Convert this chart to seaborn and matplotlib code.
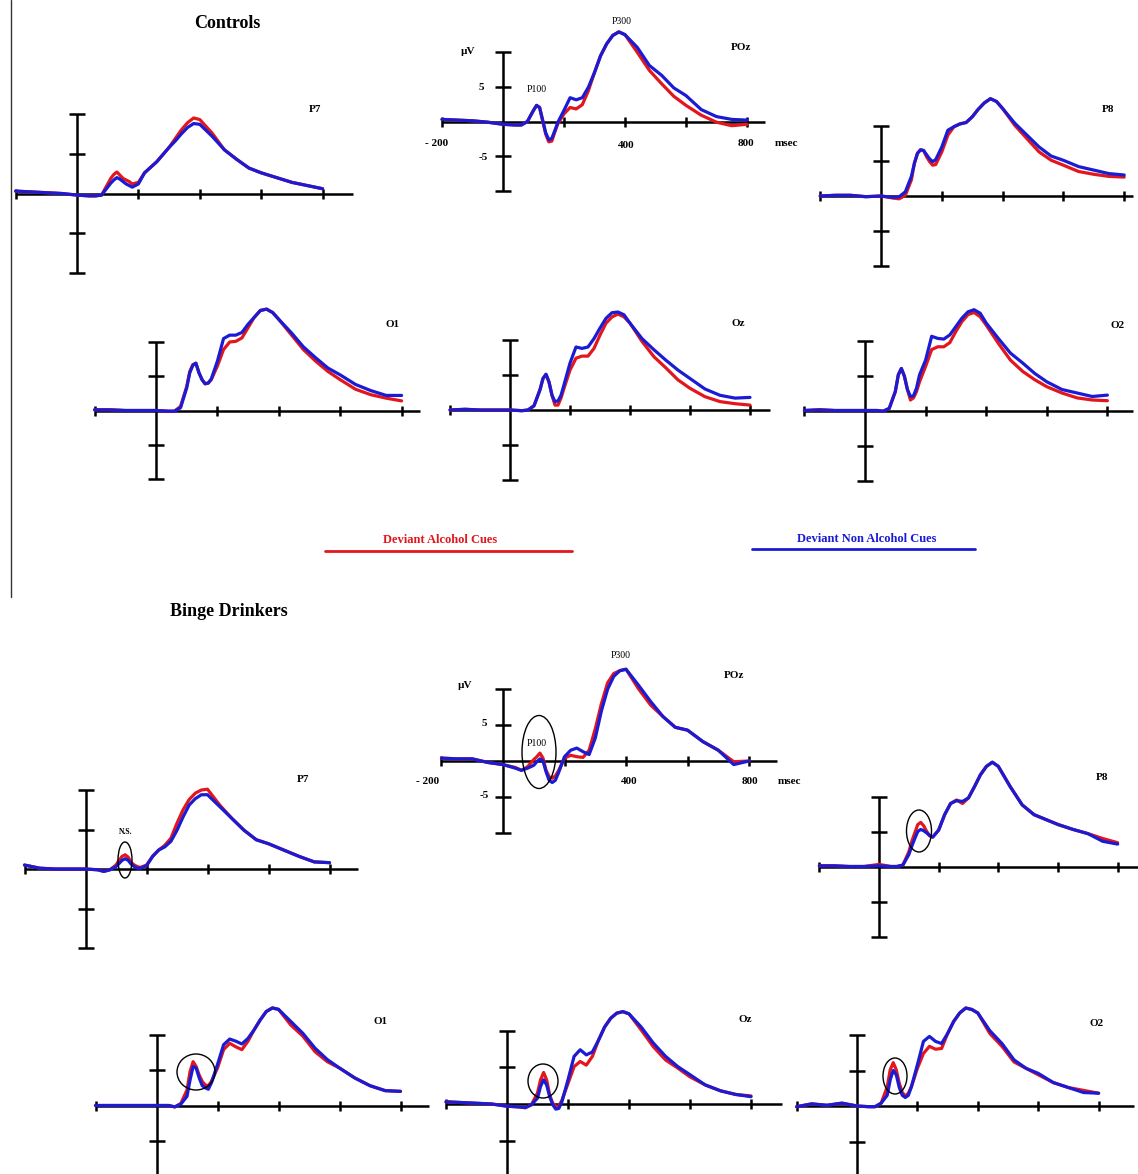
import matplotlib
matplotlib.use("Agg")
import matplotlib.pyplot as plt
import seaborn as sns
from matplotlib.patches import Ellipse
from matplotlib.lines import Line2D

# ERP grand averages: deviant alcohol (red) vs deviant non alcohol cues (blue)
W, H = 1138, 1174

times = [-200, -150, -100, -50, 0, 40, 60, 80, 100, 110, 120, 130, 140, 150, 160, 170, 180,
         200, 220, 240, 260, 280, 300, 320, 340, 360, 380, 400,
         440, 480, 520, 560, 600, 650, 700, 750, 800]

# ---- Controls (µV)
ctrl_p7_red = [0.3, 0.2, 0.1, 0.0, -0.2, -0.3, -0.3, -0.2, 1.2, 1.9, 2.4, 2.7, 2.3, 1.9, 1.7, 1.5, 1.2,
               1.4, 2.6, 3.3, 4.0, 4.9, 5.8, 6.9, 8.0, 8.9, 9.5, 9.3, 7.6, 5.5, 4.3, 3.2, 2.6, 2.0, 1.4, 1.0, 0.6]
ctrl_p7_blue = [0.3, 0.2, 0.1, 0.0, -0.2, -0.3, -0.3, -0.2, 0.8, 1.3, 1.7, 2.0, 1.8, 1.5, 1.2, 1.0, 0.8,
                1.2, 2.6, 3.3, 4.0, 4.9, 5.8, 6.6, 7.5, 8.3, 8.8, 8.7, 7.2, 5.5, 4.3, 3.2, 2.6, 2.0, 1.4, 1.0, 0.6]
ctrl_poz_red = [0.3, 0.2, 0.1, -0.1, -0.4, -0.5, -0.5, 0.0, 1.6, 2.3, 2.0, 0.1, -1.8, -2.9, -2.8, -1.5, -0.3,
                1.1, 2.0, 1.8, 2.4, 4.4, 7.0, 9.4, 11.1, 12.3, 12.8, 12.4, 9.9, 7.3, 5.4, 3.6, 2.3, 0.9, -0.1, -0.6, -0.4]
ctrl_poz_blue = [0.3, 0.2, 0.1, -0.1, -0.4, -0.5, -0.5, 0.0, 1.6, 2.3, 2.0, 0.2, -1.6, -2.6, -2.4, -1.3, -0.1,
                 1.6, 3.4, 3.1, 3.4, 4.9, 7.0, 9.4, 11.1, 12.3, 12.8, 12.4, 10.6, 8.0, 6.6, 4.8, 3.7, 1.7, 0.7, 0.3, 0.2]
ctrl_p8_red = [0.0, 0.1, 0.1, -0.1, 0.0, -0.3, -0.4, 0.1, 2.3, 4.7, 6.1, 6.6, 6.5, 5.6, 4.9, 4.4, 4.5,
               6.3, 8.7, 9.9, 10.3, 10.5, 11.3, 12.4, 13.3, 13.9, 13.5, 12.5, 10.1, 8.2, 6.3, 5.1, 4.4, 3.5, 3.1, 2.8, 2.7]
ctrl_p8_blue = [0.0, 0.1, 0.1, -0.1, 0.0, -0.2, -0.1, 0.6, 2.8, 4.7, 6.1, 6.6, 6.5, 5.9, 5.3, 4.9, 5.2,
                7.0, 9.4, 9.9, 10.3, 10.5, 11.3, 12.4, 13.3, 13.9, 13.5, 12.5, 10.4, 8.7, 7.0, 5.7, 5.1, 4.2, 3.7, 3.2, 3.0]
ctrl_o1_red = [0.1, 0.1, 0.0, 0.0, 0.0, -0.1, -0.1, 0.6, 3.5, 5.7, 6.7, 6.9, 5.5, 4.5, 3.9, 4.0, 4.5,
               6.5, 8.9, 10.0, 10.1, 10.6, 12.1, 13.6, 14.6, 14.8, 14.3, 13.3, 11.1, 8.9, 7.2, 5.7, 4.5, 3.1, 2.3, 1.8, 1.4]
ctrl_o1_blue = [0.1, 0.1, 0.0, 0.0, 0.0, -0.1, -0.1, 0.4, 3.3, 5.5, 6.6, 6.9, 5.5, 4.5, 3.9, 4.0, 4.6,
                7.2, 10.5, 11.0, 11.0, 11.4, 12.6, 13.6, 14.6, 14.8, 14.3, 13.3, 11.4, 9.3, 7.7, 6.2, 5.2, 3.8, 2.9, 2.2, 2.2]
ctrl_oz_red = [0.0, 0.1, 0.0, 0.0, 0.0, -0.1, 0.0, 0.6, 2.9, 4.5, 5.1, 4.0, 2.1, 0.7, 0.7, 1.7, 3.1,
               5.7, 7.4, 7.7, 7.7, 8.8, 10.7, 12.4, 13.3, 13.7, 13.3, 12.4, 9.8, 7.6, 6.0, 4.3, 3.1, 1.9, 1.2, 0.9, 0.7]
ctrl_oz_blue = [0.0, 0.1, 0.0, 0.0, 0.0, -0.1, 0.0, 0.6, 2.9, 4.5, 5.1, 4.0, 2.1, 1.2, 1.3, 2.1, 3.6,
                6.7, 9.0, 8.8, 9.0, 10.2, 11.7, 13.1, 13.9, 14.0, 13.6, 12.4, 10.2, 8.6, 7.1, 5.7, 4.5, 3.0, 2.1, 1.7, 1.8]
ctrl_o2_red = [0.0, 0.1, 0.0, 0.0, 0.0, 0.0, -0.1, 0.3, 2.7, 5.1, 6.0, 4.9, 3.0, 1.5, 1.8, 2.7, 4.1,
               6.3, 8.7, 9.1, 9.1, 9.7, 11.3, 12.7, 13.7, 14.0, 13.4, 12.2, 9.6, 7.2, 5.6, 4.4, 3.4, 2.5, 1.8, 1.5, 1.4]
ctrl_o2_blue = [0.0, 0.1, 0.0, 0.0, 0.0, 0.0, -0.1, 0.3, 2.7, 5.1, 6.0, 4.9, 3.0, 2.0, 2.1, 3.2, 5.1,
                7.2, 10.6, 10.3, 10.2, 10.8, 12.0, 13.2, 14.1, 14.4, 13.9, 12.5, 10.3, 8.2, 6.8, 5.3, 4.1, 3.0, 2.5, 2.0, 2.2]

# ---- Binge drinkers (µV)
binge_p7_red = [0.5, 0.1, 0.0, 0.0, 0.0, -0.1, -0.3, -0.1, 0.5, 1.1, 1.6, 1.8, 1.5, 0.8, 0.5, 0.3, 0.2,
                0.5, 1.6, 2.4, 3.0, 3.9, 5.8, 7.5, 8.8, 9.6, 10.0, 10.1, 8.1, 6.4, 4.9, 3.7, 3.2, 2.4, 1.6, 0.9, 0.8]
binge_p7_blue = [0.5, 0.1, 0.0, 0.0, 0.0, -0.1, -0.3, -0.1, 0.3, 0.7, 1.1, 1.3, 1.1, 0.6, 0.3, 0.1, 0.1,
                 0.4, 1.6, 2.4, 2.8, 3.5, 4.9, 6.6, 8.1, 8.9, 9.4, 9.4, 7.9, 6.4, 4.9, 3.7, 3.2, 2.4, 1.6, 0.9, 0.8]
binge_poz_red = [0.4, 0.3, 0.3, -0.2, -0.5, -0.9, -1.3, -0.8, 0.2, 0.6, 1.1, 0.4, -1.3, -2.2, -2.4, -2.1, -1.4,
                 0.4, 0.8, 0.6, 0.5, 1.5, 4.5, 8.0, 10.9, 12.2, 12.6, 12.8, 10.1, 7.8, 6.2, 4.7, 4.3, 2.7, 1.5, -0.1, 0.0]
binge_poz_blue = [0.4, 0.3, 0.3, -0.2, -0.5, -1.0, -1.3, -1.0, -0.6, -0.1, 0.3, 0.0, -1.5, -2.7, -3.0, -2.7, -1.7,
                  0.6, 1.5, 1.8, 1.3, 0.9, 3.2, 7.0, 10.0, 11.8, 12.6, 12.8, 10.6, 8.3, 6.2, 4.7, 4.3, 2.7, 1.5, -0.5, 0.0]
binge_p8_red = [0.1, 0.1, 0.0, 0.0, 0.3, 0.0, 0.0, 0.2, 2.1, 3.6, 4.8, 6.0, 6.3, 5.8, 5.0, 4.4, 4.2,
                5.2, 7.4, 9.0, 9.5, 9.0, 9.8, 11.4, 13.1, 14.3, 14.9, 14.3, 11.4, 8.8, 7.4, 6.7, 6.0, 5.3, 4.7, 4.0, 3.4]
binge_p8_blue = [0.1, 0.1, 0.0, 0.0, 0.1, 0.0, 0.0, 0.2, 1.7, 2.9, 4.0, 5.0, 5.3, 5.1, 4.8, 4.4, 4.2,
                 5.2, 7.4, 9.0, 9.4, 9.3, 9.8, 11.4, 13.1, 14.3, 14.9, 14.3, 11.4, 8.8, 7.4, 6.7, 6.0, 5.3, 4.7, 3.6, 3.2]
binge_o1_red = [0.0, 0.0, 0.0, 0.0, 0.0, 0.0, -0.2, 0.3, 2.2, 4.8, 6.2, 5.5, 4.3, 3.4, 2.9, 2.8, 3.4,
                5.3, 7.9, 8.8, 8.3, 7.9, 9.1, 10.7, 12.1, 13.3, 13.8, 13.6, 11.4, 9.8, 7.6, 6.2, 5.3, 3.9, 2.8, 2.1, 2.0]
binge_o1_blue = [0.0, 0.0, 0.0, 0.0, 0.0, 0.0, -0.2, 0.2, 1.3, 3.6, 5.5, 5.3, 3.9, 2.8, 2.5, 2.3, 3.2,
                 5.8, 8.6, 9.4, 9.1, 8.7, 9.5, 10.7, 12.1, 13.3, 13.8, 13.6, 11.9, 10.2, 8.1, 6.5, 5.3, 3.9, 2.8, 2.1, 2.0]
binge_oz_red = [0.3, 0.2, 0.1, 0.0, -0.3, -0.4, -0.5, -0.1, 1.5, 3.3, 4.3, 3.3, 1.2, 0.1, -0.3, -0.3, 0.5,
                2.8, 5.1, 5.8, 5.3, 6.5, 8.7, 10.5, 11.7, 12.4, 12.6, 12.3, 10.1, 7.8, 6.0, 4.9, 3.7, 2.6, 1.8, 1.3, 1.1]
binge_oz_blue = [0.3, 0.2, 0.1, 0.0, -0.3, -0.4, -0.5, -0.1, 0.8, 2.4, 3.3, 2.6, 1.0, -0.1, -0.7, -0.6, 0.3,
                 3.3, 6.5, 7.4, 6.7, 7.1, 8.7, 10.5, 11.7, 12.4, 12.6, 12.3, 10.5, 8.3, 6.5, 5.1, 4.0, 2.6, 1.8, 1.3, 1.0]
binge_o2_red = [-0.1, 0.3, 0.1, 0.4, 0.0, -0.1, -0.1, 0.4, 2.7, 5.1, 6.1, 5.1, 3.2, 1.9, 1.4, 1.8, 2.7,
                5.3, 7.4, 8.4, 8.0, 8.1, 10.2, 11.9, 13.1, 13.8, 13.6, 13.1, 10.2, 8.4, 6.2, 5.3, 4.4, 3.3, 2.6, 2.2, 1.8]
binge_o2_blue = [-0.1, 0.3, 0.1, 0.4, 0.0, -0.1, -0.1, 0.4, 1.5, 3.7, 5.0, 4.4, 2.6, 1.5, 1.2, 1.5, 2.7,
                 5.8, 9.1, 9.8, 9.1, 8.8, 10.2, 11.9, 13.1, 13.8, 13.6, 13.1, 10.6, 8.8, 6.5, 5.3, 4.6, 3.3, 2.6, 1.9, 1.8]

RED = '#e2161c'
BLUE = '#1b1bd4'

sns.set_style("white")
plt.rcParams['font.family'] = ['Liberation Serif', 'DejaVu Serif']

fig = plt.figure(figsize=(W / 100, H / 100), dpi=100)


def panel(ox, oy, sx, sy, xend, red, blue):
    # ox, oy = pixel of (0 ms, 0 µV); sx px per ms, sy px per µV
    x0, x1, y0, y1 = -240, 960, -12, 17
    left, right = ox + x0 * sx, ox + x1 * sx
    top, bottom = oy - y1 * sy, oy - y0 * sy
    ax = fig.add_axes([left / W, 1 - bottom / H, (right - left) / W, (bottom - top) / H])
    ax.set_xlim(x0, x1)
    ax.set_ylim(y0, y1)
    ax.axis('off')
    ax.patch.set_alpha(0)
    k = dict(color='black', lw=1.8, solid_capstyle='butt', zorder=1)
    ax.plot([-200, xend], [0, 0], **k)
    ax.plot([0, 0], [-10, 10], **k)
    th = 5 / sy
    for t in [-200, 200, 400, 600, 800]:
        ax.plot([t, t], [-th, th], **k)
    tw = 8 / sx
    for v in [-10, -5, 5, 10]:
        ax.plot([-tw, tw], [v, v], **k)
    sns.lineplot(x=times, y=red, ax=ax, color=RED, lw=2.3, estimator=None, legend=False, zorder=2)
    sns.lineplot(x=times, y=blue, ax=ax, color=BLUE, lw=2.3, estimator=None, legend=False, zorder=3)
    return ax


def ftext(x, y, s, size=8, weight='bold', color='black', ha='center'):
    fig.text(x / W, 1 - y / H, s, ha=ha, va='center', fontsize=size, fontweight=weight, color=color)


def ring(x, y, w, h):
    fig.add_artist(Ellipse((x / W, 1 - y / H), w / W, h / H, transform=fig.transFigure,
                           fill=False, lw=1.0, ec='black'))


# Controls
panel(77, 193.5, 0.307, 7.95, 900, ctrl_p7_red, ctrl_p7_blue)
panel(503, 121.5, 0.305, 7.0, 860, ctrl_poz_red, ctrl_poz_blue)
panel(881, 196, 0.304, 7.0, 830, ctrl_p8_red, ctrl_p8_blue)
panel(156, 410.5, 0.307, 6.85, 860, ctrl_o1_red, ctrl_o1_blue)
panel(510, 410, 0.300, 7.0, 865, ctrl_oz_red, ctrl_oz_blue)
panel(865, 410.5, 0.303, 7.0, 885, ctrl_o2_red, ctrl_o2_blue)

# Binge drinkers
panel(85.5, 869, 0.305, 7.9, 895, binge_p7_red, binge_p7_blue)
panel(503, 761, 0.3076, 7.17, 890, binge_poz_red, binge_poz_blue)
panel(879, 866.5, 0.2983, 7.0, 870, binge_p8_red, binge_p8_blue)
panel(156.5, 1105.5, 0.305, 7.07, 895, binge_o1_red, binge_o1_blue)
panel(507, 1104, 0.305, 7.33, 900, binge_oz_red, binge_oz_blue)
panel(857, 1106, 0.302, 7.1, 917, binge_o2_red, binge_o2_blue)

# titles
ftext(227, 23, 'Controls', size=13)
ftext(229, 612, 'Binge Drinkers', size=13)

# electrode labels
for x, y, s in [(315, 110, 'P7'), (741, 47, 'POz'), (1108, 110, 'P8'), (392, 325, 'O1'),
                (738, 323, 'Oz'), (1118, 326, 'O2'), (303, 780, 'P7'), (734, 675, 'POz'),
                (1102, 777, 'P8'), (380, 1021, 'O1'), (745, 1020, 'Oz'), (1097, 1023, 'O2')]:
    ftext(x, y, s, size=8)

# POz axis annotations (controls, binge)
for dy, p100, p300, x_lo, x_hi, ms_x in [(0, (537, 89), (622, 21), 437, 626, 787),
                                         (638, (537, 743), (621, 655), 428, 629, 789)]:
    ftext(468 if dy == 0 else 465, 51 + dy - (3 if dy else 0), 'µV', size=8)
    ftext(481 if dy == 0 else 484, 87 + dy - (1 if dy else 0), '5', size=8)
    ftext(483 if dy == 0 else 484, 157 + dy + (1 if dy else 0), '-5', size=8)
    ftext(x_lo, 143 + dy, '- 200', size=8)
    ftext(x_hi, 145 + dy - (2 if dy else 0), '400', size=8)
    ftext(746 if dy == 0 else 750, 143 + dy, '800', size=8)
    ftext(ms_x, 143 + dy, 'msec', size=8)
    ftext(p100[0], p100[1], 'P100', size=7, weight='normal')
    ftext(p300[0], p300[1], 'P300', size=7, weight='normal')

# significance markers (binge drinkers)
ftext(126, 832, 'N.S.', size=5.5)
ring(125, 860, 14, 36)
ring(539, 752, 34, 73)
ring(919, 831, 25, 42)
ring(196, 1072, 38, 36)
ring(543, 1081, 30, 34)
ring(895, 1076, 24, 36)

# legend
ftext(440, 540, 'Deviant Alcohol Cues', size=9, color=RED)
ftext(867, 539, 'Deviant Non Alcohol Cues', size=9, color=BLUE)
fig.add_artist(Line2D([325 / W, 572 / W], [1 - 551 / H] * 2, color=RED, lw=2))
fig.add_artist(Line2D([752 / W, 975 / W], [1 - 549 / H] * 2, color=BLUE, lw=2))

# left frame line
fig.add_artist(Line2D([11 / W, 11 / W], [1, 1 - 597 / H], color='#333333', lw=1))

fig.savefig('out.png', dpi=100)
